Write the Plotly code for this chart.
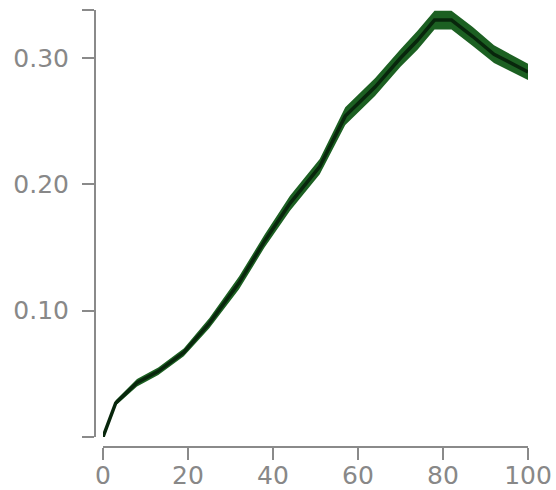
import plotly.graph_objects as go

# data
x_vals = [0, 3, 8, 13, 19, 25, 32, 38, 44, 51, 57, 64, 70, 74, 78, 82, 87, 92, 100]
mid_vals = [0.000, 0.027, 0.043, 0.052, 0.067, 0.090, 0.122, 0.155, 0.185, 0.214,
            0.254, 0.277, 0.300, 0.314, 0.330, 0.330, 0.317, 0.303, 0.289]
lower_vals = [0.000, 0.025, 0.040, 0.049, 0.064, 0.086, 0.117, 0.150, 0.179, 0.208,
              0.247, 0.270, 0.293, 0.3065, 0.3225, 0.3225, 0.3095, 0.296, 0.2825]
upper_vals = [0.001, 0.029, 0.046, 0.055, 0.070, 0.094, 0.127, 0.160, 0.191, 0.220,
              0.261, 0.284, 0.307, 0.3215, 0.3375, 0.3375, 0.3245, 0.310, 0.2955]

x_ticks = [0, 20, 40, 60, 80, 100]
y_ticks = [0, 0.1, 0.2, 0.3, 0.338]
y_tick_text = ["", "0.10", "0.20", "0.30", ""]

W, H = 556, 490
ml, mr, mt, mb = 95, 28, 10, 43
pw = W - ml - mr
ph = H - mt - mb

fig = go.Figure()
fig.add_trace(go.Scatter(x=x_vals, y=lower_vals, mode="lines",
                         line=dict(width=0, color="rgba(0,0,0,0)"),
                         hoverinfo="skip", showlegend=False))
fig.add_trace(go.Scatter(x=x_vals, y=upper_vals, mode="lines",
                         line=dict(width=0, color="rgba(0,0,0,0)"),
                         fill="tonexty", fillcolor="rgb(28,96,34)",
                         hoverinfo="skip", showlegend=False))
fig.add_trace(go.Scatter(x=x_vals, y=mid_vals, mode="lines",
                         line=dict(width=3.5, color="rgb(8,38,12)"),
                         showlegend=False))

axis_common = dict(
    showgrid=False, zeroline=False, showline=True, linecolor="#8a8a8a", linewidth=2,
    ticks="outside", ticklen=12, tickwidth=2, tickcolor="#8a8a8a",
    tickfont=dict(family="DejaVu Sans", size=25, color="#888888"),
    anchor="free", position=0, automargin=False,
)

fig.update_layout(
    width=W, height=H,
    margin=dict(l=ml, r=mr, t=mt, b=mb, pad=0),
    paper_bgcolor="white", plot_bgcolor="white",
    xaxis=dict(range=[0, 100], domain=[8 / pw, 1], tickvals=x_ticks,
               ticklabelstandoff=-6, **axis_common),
    yaxis=dict(range=[0, 0.338], domain=[10 / ph, 1], tickvals=y_ticks,
               ticktext=y_tick_text, ticklabelstandoff=8, **axis_common),
)

fig.write_html(
    "out.html",
    config={"displayModeBar": False},
    post_script="document.body.style.margin='0';document.body.style.overflow='hidden';",
)
